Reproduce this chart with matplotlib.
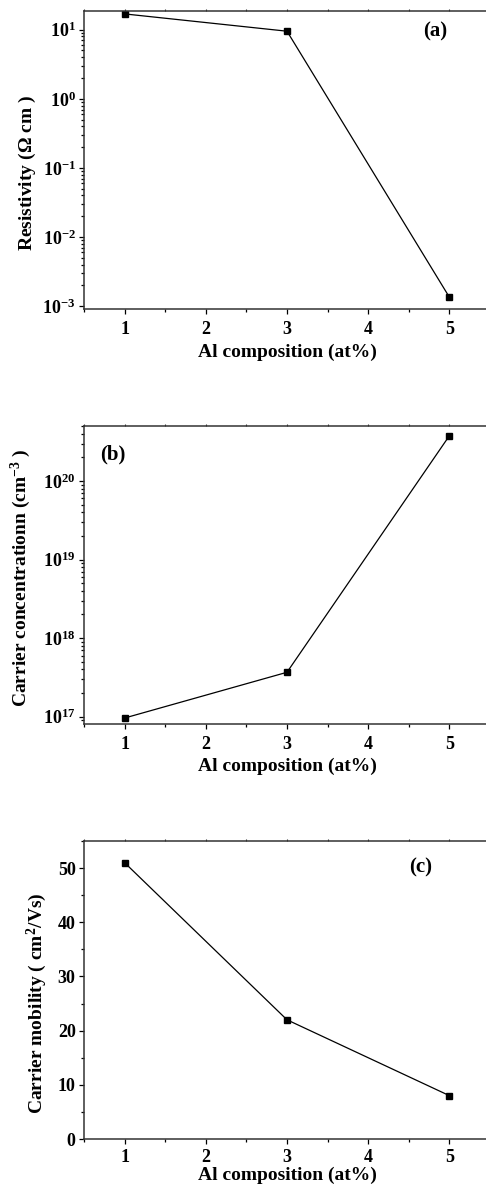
import numpy as np
import matplotlib
matplotlib.use('Agg')
import matplotlib.pyplot as plt
from matplotlib.ticker import FuncFormatter, LogLocator, MultipleLocator, NullFormatter

plt.rcParams['font.family'] = ['Liberation Serif', 'DejaVu Serif']
plt.rcParams['font.weight'] = 'bold'
plt.rcParams['mathtext.fontset'] = 'custom'
plt.rcParams['mathtext.rm'] = 'Liberation Serif:bold'
plt.rcParams['mathtext.bf'] = 'Liberation Serif:bold'
plt.rcParams['mathtext.it'] = 'Liberation Serif:bold'

# data
al = [1, 3, 5]
resistivity = [16.9, 9.5, 1.35e-3]
carrier_conc = [9.6e16, 3.67e17, 3.77e20]
mobility = [51, 22, 8]

xlabel = 'Al composition (at%)'
ylabels = [r'Resistivity ($\Omega$ cm )',
           r'Carrier concentrationn (cm$^{-3}$ )',
           r'Carrier mobility ( cm$^{2}$/Vs)']
panel_tags = ['(a)', '(b)', '(c)']

W, H = 486, 1187
fig = plt.figure(figsize=(W / 100, H / 100), dpi=100)

def px_axes(top, bottom):
    left, right = 84, 490
    return fig.add_axes([left / W, 1 - bottom / H, (right - left) / W, (bottom - top) / H])

ax1 = px_axes(11, 309)
ax2 = px_axes(426, 723.7)
ax3 = px_axes(841, 1139)

logfmt = FuncFormatter(lambda v, p: r'$\mathbf{10^{%d}}$' % int(round(np.log10(v))))

for ax, y in zip([ax1, ax2, ax3], [resistivity, carrier_conc, mobility]):
    ax.plot(al, y, color='black', lw=0.9, marker='s', ms=4.5, mfc='black', mec='black')
    ax.set_xlim(0.5, 5.5)
    ax.set_xticks([1, 2, 3, 4, 5])
    ax.xaxis.set_minor_locator(MultipleLocator(0.5))
    ax.spines['right'].set_visible(False)
    for s in ['left', 'bottom', 'top']:
        ax.spines[s].set_linewidth(1.1)
        ax.spines[s].set_color('#333333')
    ax.tick_params(which='both', direction='out', labelsize=13, colors='black', width=0.9, pad=2.5)
    ax.tick_params(axis='x', which='both', pad=5)
    ax.tick_params(which='major', length=3.5)
    ax.tick_params(which='minor', length=2)
    # tiny mirrored ticks on the top frame
    top = ax.secondary_xaxis('top')
    top.set_xticks([1, 2, 3, 4, 5])
    top.xaxis.set_minor_locator(MultipleLocator(0.5))
    top.tick_params(which='both', length=1.2, width=0.8, labeltop=False, colors='#333333')
    top.spines['top'].set_visible(False)
    ax.set_xlabel(xlabel, fontsize=14, fontweight='bold', labelpad=4)

# last panel's label sits right at the bottom edge
ax3.tick_params(axis='x', which='both', pad=4)
ax3.set_xlabel(xlabel, fontsize=14, fontweight='bold', labelpad=0.5)

ax1.set_yscale('log')
ax1.set_ylim(10 ** -3.04, 10 ** 1.27)
ax2.set_yscale('log')
ax2.set_ylim(10 ** 16.91, 10 ** 20.70)
for ax in [ax1, ax2]:
    ax.yaxis.set_major_locator(LogLocator(base=10, numticks=20))
    ax.yaxis.set_minor_locator(LogLocator(base=10, subs=np.arange(2, 10), numticks=20))
    ax.yaxis.set_major_formatter(logfmt)
    ax.yaxis.set_minor_formatter(NullFormatter())

ax3.set_ylim(0, 55)
ax3.yaxis.set_major_locator(MultipleLocator(10))
ax3.yaxis.set_minor_locator(MultipleLocator(5))

ax1.set_ylabel(ylabels[0], fontsize=14, fontweight='bold', labelpad=3)
ax2.set_ylabel(ylabels[1], fontsize=14, fontweight='bold', labelpad=7)
ax3.set_ylabel(ylabels[2], fontsize=14, fontweight='bold', labelpad=6)
ax1.yaxis.label.set_y(0.455)
ax2.yaxis.label.set_y(0.49)
ax3.yaxis.label.set_y(0.455)

ax1.text(4.83, 10 ** 0.98, panel_tags[0], fontsize=15, fontweight='bold', ha='center', va='center')
ax2.text(0.85, 10 ** 20.34, panel_tags[1], fontsize=15, fontweight='bold', ha='center', va='center')
ax3.text(4.65, 50.2, panel_tags[2], fontsize=15, fontweight='bold', ha='center', va='center')

fig.savefig('out.png', dpi=100)
